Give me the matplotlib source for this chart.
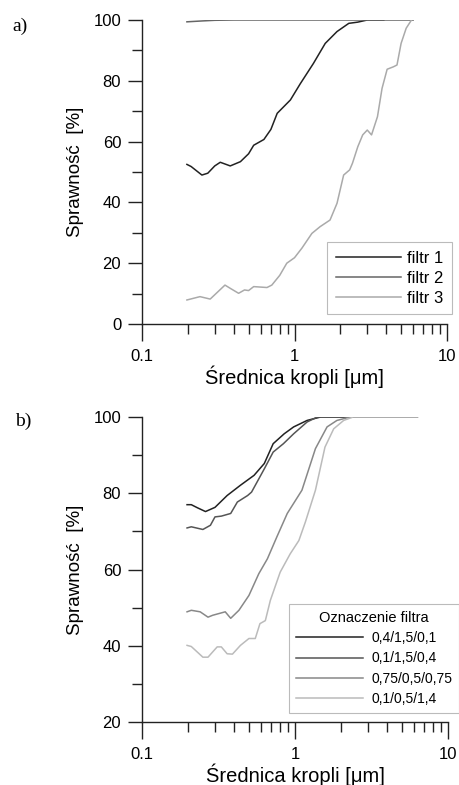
import numpy as np
import matplotlib.pyplot as plt
from matplotlib.ticker import MultipleLocator, LogLocator, FixedLocator, NullFormatter

plt.rcParams['font.family'] = ['Liberation Sans', 'DejaVu Sans']

# panel a) data
a_f1_x = [0.197, 0.21, 0.247, 0.27, 0.3, 0.326, 0.379, 0.442, 0.5, 0.54, 0.63, 0.7, 0.77, 0.94,
          1.09, 1.33, 1.59, 1.9, 2.27, 2.6, 3.0, 3.85]
a_f1_y = [52.5, 51.8, 49.0, 49.6, 52.0, 53.2, 52.0, 53.4, 56.0, 58.8, 60.7, 64.0, 69.3, 73.7,
          79.0, 85.7, 92.3, 96.2, 98.9, 99.3, 100.0, 100.0]

a_f2_x = [0.197, 0.25, 0.3, 0.4, 0.6, 1.0, 2.0, 4.0, 6.0]
a_f2_y = [99.4, 99.7, 99.9, 100.0, 100.0, 100.0, 100.0, 100.0, 100.0]

a_f3_x = [0.197, 0.24, 0.28, 0.35, 0.38, 0.43, 0.47, 0.5, 0.54, 0.66, 0.71, 0.8, 0.89, 1.0,
          1.12, 1.3, 1.47, 1.71, 1.9, 2.1, 2.3, 2.4, 2.6, 2.8, 3.0, 3.2, 3.5, 3.75, 4.05,
          4.45, 4.7, 5.0, 5.4, 5.85]
a_f3_y = [7.9, 9.0, 8.2, 12.8, 11.7, 10.1, 11.2, 11.0, 12.3, 12.0, 12.8, 16.0, 20.0, 21.8,
          25.0, 29.8, 32.0, 34.2, 39.7, 49.0, 50.7, 52.9, 58.3, 62.2, 63.8, 62.2, 68.2, 77.5, 83.8,
          84.6, 85.2, 92.3, 97.3, 100.0]

# panel b) data
b_s1_x = [0.197, 0.21, 0.23, 0.26, 0.3, 0.36, 0.44, 0.54, 0.63, 0.72, 0.85, 0.98, 1.2, 1.47,
          2.0, 3.0, 6.3]
b_s1_y = [77.0, 77.0, 76.2, 75.2, 76.3, 79.4, 82.1, 84.7, 87.8, 93.0, 95.6, 97.4, 99.1, 100.0,
          100.0, 100.0, 100.0]

b_s2_x = [0.197, 0.21, 0.25, 0.28, 0.3, 0.33, 0.38, 0.42, 0.49, 0.52, 0.63, 0.72, 0.84, 0.98,
          1.2, 1.4, 2.0, 3.0, 6.3]
b_s2_y = [70.9, 71.2, 70.5, 71.6, 73.8, 74.0, 74.7, 77.7, 79.4, 80.3, 86.4, 90.8, 93.0, 95.6,
          98.7, 100.0, 100.0, 100.0, 100.0]

b_s3_x = [0.197, 0.21, 0.24, 0.27, 0.29, 0.35, 0.38, 0.43, 0.5, 0.58, 0.66, 0.76, 0.89, 1.11,
          1.36, 1.62, 1.88, 2.3, 3.0, 6.3]
b_s3_y = [48.9, 49.3, 48.9, 47.5, 48.0, 48.9, 47.2, 49.3, 53.2, 58.9, 62.8, 68.5, 74.7, 80.8,
          91.7, 97.4, 99.1, 100.0, 100.0, 100.0]

b_s4_x = [0.197, 0.21, 0.25, 0.27, 0.31, 0.33, 0.36, 0.39, 0.44, 0.5, 0.55, 0.59, 0.64, 0.69,
          0.8, 0.93, 1.06, 1.17, 1.36, 1.57, 1.79, 2.08, 2.4, 3.0, 6.3]
b_s4_y = [40.1, 39.8, 37.0, 37.0, 39.7, 39.7, 37.9, 37.8, 40.1, 41.9, 41.9, 45.8, 46.6, 51.9,
          59.3, 64.1, 67.6, 72.5, 80.8, 92.1, 96.9, 99.1, 100.0, 100.0, 100.0]

a_labels = ['filtr 1', 'filtr 2', 'filtr 3']
b_labels = ['0,4/1,5/0,1', '0,1/1,5/0,4', '0,75/0,5/0,75', '0,1/0,5/1,4']
a_colors = ['#222222', '#666666', '#aaaaaa']
b_colors = ['#222222', '#555555', '#888888', '#bbbbbb']

W, H = 459, 785
fig = plt.figure(figsize=(W / 100, H / 100), dpi=100)
ax_a = fig.add_axes([142 / W, (H - 324) / H, 305 / W, 304 / H])
ax_b = fig.add_axes([142 / W, (H - 722) / H, 306 / W, 305 / H])


def style(ax, ymin, ymax):
    ax.set_xscale('log')
    ax.set_xlim(0.1, 10)
    ax.set_ylim(ymin, ymax)
    for s in ['top', 'right']:
        ax.spines[s].set_visible(False)
    for s in ['left', 'bottom']:
        ax.spines[s].set_linewidth(1.0)
        ax.spines[s].set_color('#222222')
    ax.xaxis.set_major_locator(FixedLocator([0.1, 1, 10]))
    ax.xaxis.set_major_formatter(plt.FuncFormatter(lambda v, p: {0.1: '0.1', 1: '1', 10: '10'}.get(round(v, 3), '')))
    ax.xaxis.set_minor_locator(LogLocator(base=10, subs=np.arange(2, 10)))
    ax.xaxis.set_minor_formatter(NullFormatter())
    ax.yaxis.set_major_locator(MultipleLocator(20))
    ax.yaxis.set_minor_locator(MultipleLocator(10))
    ax.tick_params(which='major', direction='out', length=10, width=1.0, color='#222222',
                   labelsize=12)
    ax.tick_params(axis='x', which='major', length=12, pad=6)
    ax.tick_params(axis='y', which='major', pad=5)
    ax.tick_params(which='minor', direction='out', length=7, width=1.0, color='#222222')
    ax.set_xlabel('Średnica kropli [μm]', fontsize=14.5, labelpad=1)
    ax.set_ylabel('Sprawność  [%]', fontsize=13.5, labelpad=7)


style(ax_a, 0, 100)
for xs, ys, lab, c in zip([a_f1_x, a_f2_x, a_f3_x], [a_f1_y, a_f2_y, a_f3_y], a_labels, a_colors):
    ax_a.plot(xs, ys, color=c, lw=1.1, label=lab)
leg_a = ax_a.legend(loc='lower right', bbox_to_anchor=(1.016, 0.033), fontsize=12, frameon=True,
                    fancybox=False, edgecolor='#aaaaaa', handlelength=3.9, handletextpad=0.4,
                    borderpad=0.5, labelspacing=0.3, borderaxespad=0)
leg_a.get_frame().set_linewidth(0.8)

style(ax_b, 20, 100)
for xs, ys, lab, c in zip([b_s1_x, b_s2_x, b_s3_x, b_s4_x], [b_s1_y, b_s2_y, b_s3_y, b_s4_y],
                          b_labels, b_colors):
    ax_b.plot(xs, ys, color=c, lw=1.1, label=lab)
leg_b = ax_b.legend(loc='lower right', bbox_to_anchor=(1.036, 0.03), fontsize=10, frameon=True,
                    fancybox=False, edgecolor='#aaaaaa', handlelength=4.8, handletextpad=0.6,
                    borderpad=0.5, labelspacing=0.45, borderaxespad=0,
                    title='Oznaczenie filtra', title_fontsize=10.5)
leg_b.get_frame().set_linewidth(0.8)

fig.text(12 / W, 1 - 26 / H, 'a)', fontsize=14, family='Liberation Serif', va='center')
fig.text(15 / W, 1 - 421 / H, 'b)', fontsize=14, family='Liberation Serif', va='center')

fig.savefig('out.png', dpi=100)
